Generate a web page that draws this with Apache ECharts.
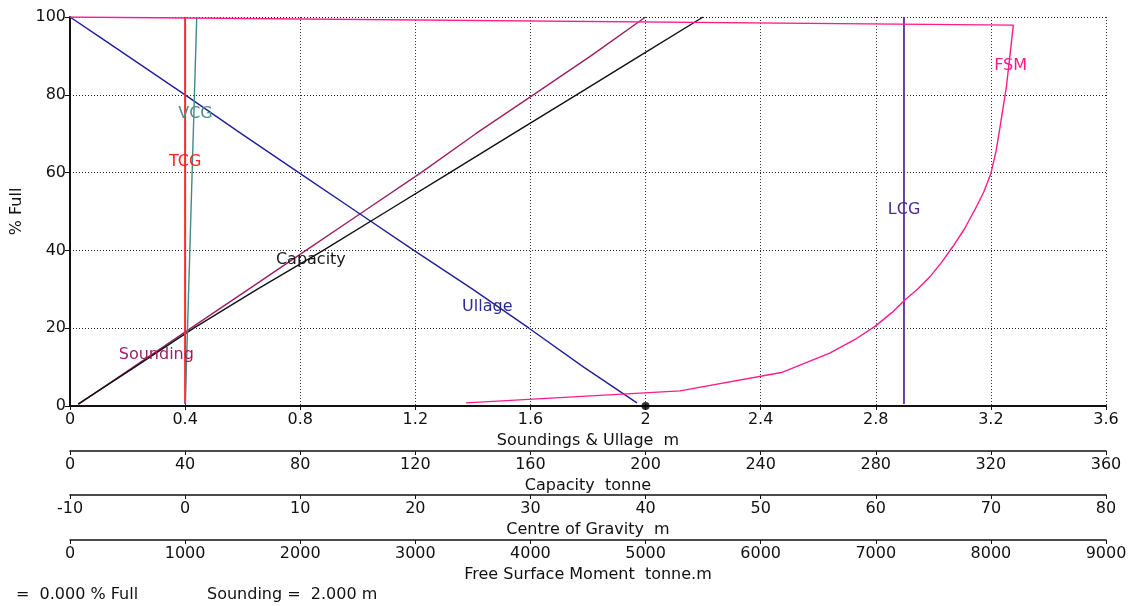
<!DOCTYPE html>
<html>
<head>
<meta charset="utf-8">
<title>Tank calibration</title>
<script src="https://cdn.jsdelivr.net/npm/echarts@6/dist/echarts.min.js"></script>
<style>
  html, body { margin: 0; padding: 0; background: #fff; }
  #chart { width: 1137px; height: 606px; }
</style>
</head>
<body>
<div id="chart"></div>
<script>
// Fill levels (% full) shared by sounding, capacity and centre-of-gravity curves
const levels     = [0.5, 10, 20, 30, 40, 50, 60, 70, 80, 90, 100];
const soundings  = [0.03, 0.22, 0.42, 0.62, 0.82, 1.02, 1.22, 1.41, 1.61, 1.81, 2.00];   // m
const capacities = [2.8, 22.5, 43, 65, 88, 110, 132, 154, 176, 198, 220];               // tonne
const vcgValues  = [0.02, 0.11, 0.21, 0.31, 0.41, 0.51, 0.61, 0.71, 0.81, 0.91, 1.01];   // m
const tcgValues  = [0, 0, 0, 0, 0, 0, 0, 0, 0, 0, 0];                                    // m
const lcgValues  = [62.45, 62.45, 62.45, 62.45, 62.45, 62.45, 62.45, 62.45, 62.45, 62.45, 62.45]; // m

// Ullage curve
const ullageLevels = [0.8, 10, 20, 30, 40, 50, 60, 70, 80, 90, 95, 100];
const ullages      = [1.97, 1.785, 1.595, 1.40, 1.195, 0.995, 0.795, 0.595, 0.40, 0.20, 0.10, 0];

// Free surface moment curve
const fsmLevels = [0.8, 3.9, 8.6, 13.6, 17.1, 20.4, 24.0, 27.2, 30.0, 33.2, 37.0, 41.0, 45.5, 50.4, 55.0, 59.8, 65.5, 71.8, 82.1, 97.9, 100];
const fsmValues = [3440, 5300, 6180, 6600, 6820, 6990, 7140, 7250, 7362, 7470, 7573, 7670, 7770, 7860, 7938, 8000, 8045, 8080, 8135, 8195, 0];

// Current reading
const currentSounding = 2.0;
const currentFull = 0;

// Axis scales: [min, max, interval]
const soundingScale = [0, 3.6, 0.4];
const capacityScale = [0, 360, 40];
const cogScale      = [-10, 80, 10];
const fsmScale      = [0, 9000, 1000];
const yScale        = [0, 100, 20];

// Curve labels, placed in each curve's own data coordinates [x, %full]
const soundingLabelAt = [0.30, 13.1];
const ullageLabelAt   = [1.45, 25.4];
const capacityLabelAt = [83.7, 37.5];
const vcgLabelAt      = [0.9, 75.1];
const tcgLabelAt      = [0.0, 62.7];
const lcgLabelAt      = [62.46, 50.4];
const fsmLabelAt      = [8171, 87.4];

const FONT = 'DejaVu Sans';
const TEXT = '#111';

const pairs = (xs, ys) => xs.map((x, i) => [x, ys[i]]);

// Plain number text without digit grouping, trimmed of float noise
const plain = v => String(Math.round(v * 1000) / 1000);

function tag(text, at, color) {
  return {
    silent: true,
    symbol: 'circle',
    symbolSize: 0,
    data: [{
      coord: at,
      label: {
        show: true, position: 'inside', formatter: text,
        color: color, fontFamily: FONT, fontSize: 16
      }
    }]
  };
}

function bottomAxis(scale, name, offset, primary) {
  return {
    type: 'value',
    position: 'bottom',
    gridIndex: 0,
    offset: offset,
    min: scale[0], max: scale[1], interval: scale[2],
    name: name,
    nameLocation: 'middle',
    nameGap: 25,
    nameTextStyle: { color: TEXT, fontFamily: FONT, fontSize: 16 },
    axisLine: { show: true, onZero: false, lineStyle: { color: '#111', width: primary ? 2 : 1.5 } },
    axisTick: { show: true, inside: false, length: 4, lineStyle: { color: '#111' } },
    axisLabel: {
      color: TEXT, fontFamily: FONT, fontSize: 16, margin: 6,
      showMinLabel: true, showMaxLabel: true, formatter: plain
    },
    splitLine: primary
      ? { show: true, lineStyle: { color: '#333', type: [1, 2], width: 1 } }
      : { show: false }
  };
}

const chart = echarts.init(document.getElementById('chart'), null, { renderer: 'canvas' });

chart.setOption({
  animation: false,
  backgroundColor: '#fff',
  grid: { left: 70, right: 31, top: 17, bottom: 200, containLabel: false },
  xAxis: [
    bottomAxis(soundingScale, 'Soundings & Ullage  m', 0, true),
    bottomAxis(capacityScale, 'Capacity  tonne', 45, false),
    bottomAxis(cogScale, 'Centre of Gravity  m', 89, false),
    bottomAxis(fsmScale, 'Free Surface Moment  tonne.m', 134, false)
  ],
  yAxis: {
    type: 'value',
    min: yScale[0], max: yScale[1], interval: yScale[2],
    name: '% Full',
    nameLocation: 'middle',
    nameGap: 41,
    nameTextStyle: { color: TEXT, fontFamily: FONT, fontSize: 16 },
    axisLine: { show: true, onZero: false, lineStyle: { color: '#111', width: 2 } },
    axisTick: { show: true, length: 5, lineStyle: { color: '#111' } },
    axisLabel: { color: TEXT, fontFamily: FONT, fontSize: 16, margin: 4, formatter: plain },
    splitLine: { show: true, lineStyle: { color: '#222', type: [1, 2], width: 1 } }
  },
  series: [
    {
      name: 'Sounding', type: 'line', xAxisIndex: 0, symbol: 'none',
      lineStyle: { color: '#9e1f63', width: 1.4 },
      data: pairs(soundings, levels),
      markPoint: tag('Sounding', soundingLabelAt, '#9e1f63')
    },
    {
      name: 'Ullage', type: 'line', xAxisIndex: 0, symbol: 'none',
      lineStyle: { color: '#1f1f99', width: 1.4 },
      data: pairs(ullages, ullageLevels),
      markPoint: tag('Ullage', ullageLabelAt, '#2a2a9a')
    },
    {
      name: 'Capacity', type: 'line', xAxisIndex: 1, symbol: 'none',
      lineStyle: { color: '#111', width: 1.4 },
      data: pairs(capacities, levels),
      markPoint: tag('Capacity', capacityLabelAt, '#1a1a1a')
    },
    {
      name: 'TCG', type: 'line', xAxisIndex: 2, symbol: 'none',
      lineStyle: { color: '#ff2a2a', width: 2 },
      data: pairs(tcgValues, levels),
      markPoint: tag('TCG', tcgLabelAt, '#ff2020')
    },
    {
      name: 'VCG', type: 'line', xAxisIndex: 2, symbol: 'none',
      lineStyle: { color: '#3f8a8a', width: 1.4 },
      data: pairs(vcgValues, levels),
      markPoint: tag('VCG', vcgLabelAt, '#4a8f8f')
    },
    {
      name: 'LCG', type: 'line', xAxisIndex: 2, symbol: 'none',
      lineStyle: { color: '#5e2ca5', width: 1.8 },
      data: pairs(lcgValues, levels),
      markPoint: tag('LCG', lcgLabelAt, '#4b2a8a')
    },
    {
      name: 'FSM', type: 'line', xAxisIndex: 3, symbol: 'none',
      lineStyle: { color: '#ff1a8c', width: 1.4 },
      data: pairs(fsmValues, fsmLevels),
      markPoint: tag('FSM', fsmLabelAt, '#ff1a8c')
    },
    {
      name: 'Current', type: 'scatter', xAxisIndex: 0, clip: false,
      symbol: 'circle', symbolSize: 8,
      itemStyle: { color: '#000' },
      data: [[currentSounding, currentFull]],
      z: 5
    }
  ],
  graphic: [
    {
      type: 'text', left: 16, top: 587,
      style: { text: '=  ' + currentFull.toFixed(3) + ' % Full', fill: TEXT, font: '16px "DejaVu Sans"' }
    },
    {
      type: 'text', left: 207, top: 587,
      style: { text: 'Sounding =  ' + currentSounding.toFixed(3) + ' m', fill: TEXT, font: '16px "DejaVu Sans"' }
    }
  ]
});
</script>
</body>
</html>
